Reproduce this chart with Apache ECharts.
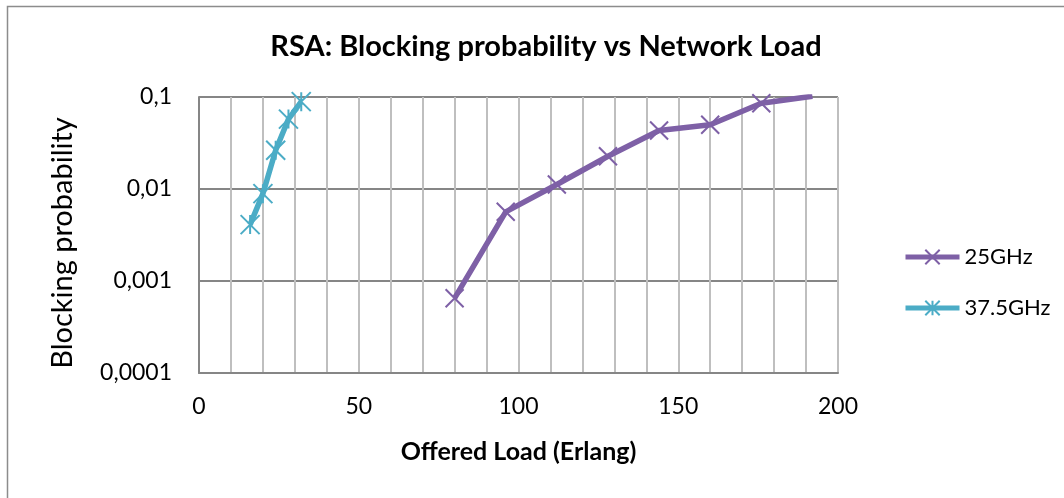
<!DOCTYPE html>
<html>
<head>
<meta charset="utf-8">
<title>RSA: Blocking probability vs Network Load</title>
<script src="https://cdn.jsdelivr.net/npm/echarts@6/dist/echarts.min.js"></script>
<style>
    html, body { margin: 0; padding: 0; background: #fff; }
    #chart { width: 1064px; height: 498px; }
</style>
</head>
<body>
<div id="chart"></div>
<script>
    // data
    const load25 = [80, 96, 112, 128, 144, 160, 176, 192];
    const block25 = [0.00065, 0.00565, 0.0112, 0.0227, 0.0433, 0.0499, 0.0855, 0.102];
    const load375 = [16, 20, 24, 28, 32];
    const block375 = [0.0041, 0.0089, 0.0264, 0.0575, 0.089];
    const xTickLabels = ['0', '50', '100', '150', '200'];
    const yTickLabels = ['0,0001', '0,001', '0,01', '0,1'];

    const FONT = 'Lato';
    const X_MARK = 'path://M0 0L10 10M10 0L0 10';
    const STAR_MARK = 'path://M0 0L10 10M10 0L0 10M5 0L5 10';

    function pairs(xs, ys) {
        return xs.map((x, i) => [x, ys[i]]);
    }

    let myChart = echarts.init(document.getElementById('chart'));
    myChart.setOption({
        backgroundColor: '#fff',
        animation: false,
        textStyle: { fontFamily: FONT },
        title: {
            text: 'RSA: Blocking probability vs Network Load',
            left: 541, top: 27, textAlign: 'center',
            textStyle: { fontFamily: FONT, fontSize: 29, fontWeight: 'bold', color: '#000' }
        },
        graphic: [{
            type: 'rect', left: 5, top: 4,
            shape: { width: 1070, height: 493 },
            style: { fill: 'none', stroke: '#8c8c8c', lineWidth: 1.5 },
            silent: true
        }],
        legend: {
            orient: 'vertical', left: 898, top: 241,
            itemWidth: 54, itemHeight: 18, itemGap: 29,
            lineStyle: { width: 5 },
            textStyle: { fontFamily: FONT, fontSize: 22, color: '#000' },
            data: ['25GHz', '37.5GHz']
        },
        grid: { left: 199, right: 226, top: 97, bottom: 125 },
        xAxis: {
            type: 'value', min: 0, max: 200, interval: 10,
            name: 'Offered Load (Erlang)', nameLocation: 'middle', nameGap: 66,
            nameTextStyle: { fontFamily: FONT, fontSize: 25, fontWeight: 'bold', color: '#000' },
            axisLine: { show: true, lineStyle: { color: '#868686', width: 2 } },
            axisTick: { show: false },
            axisLabel: {
                margin: 22, fontSize: 23, color: '#000', fontFamily: FONT,
                formatter: v => (v % 50 === 0 ? xTickLabels[v / 50] : '')
            },
            splitLine: { show: true, lineStyle: { color: '#bfbfbf', width: 2 } }
        },
        yAxis: {
            type: 'log', logBase: 10, min: 0.0001, max: 0.1,
            name: 'Blocking probability', nameLocation: 'middle', nameGap: 122,
            nameTextStyle: { fontFamily: FONT, fontSize: 29, color: '#000', padding: [0, 16, 0, 0] },
            axisLine: { show: true, lineStyle: { color: '#868686', width: 2 } },
            axisTick: { show: false },
            axisLabel: {
                margin: 27, fontSize: 23, color: '#000', fontFamily: FONT,
                formatter: v => yTickLabels[Math.round(Math.log10(v)) + 4]
            },
            splitLine: { show: true, lineStyle: { color: '#868686', width: 2 } }
        },
        series: [
            {
                name: '25GHz', type: 'line', clip: true,
                data: pairs(load25, block25),
                symbol: X_MARK, symbolSize: 18,
                lineStyle: { color: '#7e60a6', width: 5.5 },
                itemStyle: { color: '#7e60a6', borderColor: '#7e60a6', borderWidth: 2 }
            },
            {
                name: '37.5GHz', type: 'line', clip: true,
                data: pairs(load375, block375),
                symbol: STAR_MARK, symbolSize: 19,
                lineStyle: { color: '#4bacc6', width: 5.5 },
                itemStyle: { color: '#4bacc6', borderColor: '#4bacc6', borderWidth: 2 }
            }
        ]
    });
</script>
</body>
</html>
